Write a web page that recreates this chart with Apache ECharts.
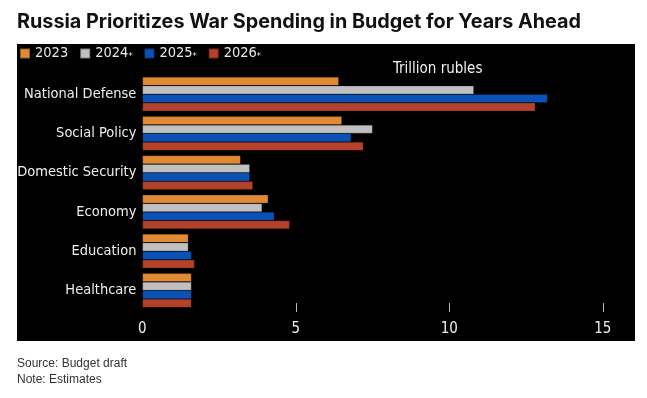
<!DOCTYPE html>
<html>
<head>
<meta charset="utf-8">
<script src="https://cdn.jsdelivr.net/npm/echarts@6/dist/echarts.min.js"></script>
<style>
  html, body { margin: 0; padding: 0; background: #fff; }
  #chart { width: 647px; height: 398px; }
</style>
</head>
<body>
<div id="chart"></div>
<script>
// categories and values (trillion rubles)
const categories = ['National Defense', 'Social Policy', 'Domestic Security', 'Economy', 'Education', 'Healthcare'];
const years = ['2023', '2024*', '2025*', '2026*'];
const v2023 = [6.4, 6.5, 3.2, 4.1, 1.5, 1.6];
const v2024 = [10.8, 7.5, 3.5, 3.9, 1.5, 1.6];
const v2025 = [13.2, 6.8, 3.5, 4.3, 1.6, 1.6];
const v2026 = [12.8, 7.2, 3.6, 4.8, 1.7, 1.6];
const xTicks = [0, 5, 10, 15];

const colors = ['#e08b33', '#c0c0c0', '#0b52b6', '#b4412a'];
const font = '"DejaVu Sans Condensed", "DejaVu Sans", sans-serif';

const chart = echarts.init(document.getElementById('chart'));

const seriesValues = [v2023, v2024, v2025, v2026];

chart.setOption({
  animation: false,
  backgroundColor: '#fff',
  graphic: [
    {
      type: 'rect', z: -10, silent: true,
      shape: { x: 17, y: 44, width: 618, height: 297 },
      style: { fill: '#000' }
    },
    {
      type: 'text', left: 17, top: 12,
      style: {
        text: 'Russia Prioritizes War Spending in Budget for Years Ahead',
        font: 'bold 19.8px Inter, "Liberation Sans", Arial, sans-serif',
        fill: '#111'
      }
    },
    {
      type: 'text', left: 393, top: 62,
      style: { text: 'Trillion rubles', font: '15px ' + font, fill: '#f2f2f2' }
    },
    {
      type: 'text', left: 17, top: 356,
      style: {
        text: 'Source: Budget draft\nNote: Estimates',
        font: '12px "Liberation Sans", Arial, sans-serif',
        lineHeight: 16,
        fill: '#333'
      }
    }
  ],
  legend: {
    left: 14, top: 41,
    icon: 'rect',
    itemWidth: 10, itemHeight: 10,
    itemGap: 11,
    data: years,
    formatter: name => name.replace('*', '{a|*}'),
    textStyle: {
      color: '#e8e8e8', fontFamily: font, fontSize: 14.5,
      rich: { a: { fontSize: 9, color: '#e8e8e8', fontFamily: font, verticalAlign: 'bottom' } }
    }
  },
  grid: { left: 142.4, right: 44.2, top: 74.6, bottom: 87.9 },
  xAxis: {
    type: 'value',
    min: 0, max: 15, interval: 5,
    offset: 2,
    splitLine: { show: false },
    axisLine: { show: false },
    axisTick: {
      show: true, inside: true, length: 9,
      customValues: xTicks.slice(1),
      lineStyle: { color: '#bbb', width: 1 }
    },
    axisLabel: {
      color: '#eee', fontFamily: font, fontSize: 15, margin: 10,
      customValues: xTicks
    }
  },
  yAxis: {
    type: 'category',
    inverse: true,
    data: categories,
    axisLine: { show: false },
    axisTick: { show: false },
    axisLabel: { color: '#eee', fontFamily: font, fontSize: 14.5, margin: 6 }
  },
  series: years.map((y, i) => ({
    name: y,
    type: 'bar',
    data: seriesValues[i],
    barGap: '0%',
    barCategoryGap: '12.4%',
    itemStyle: { color: colors[i], borderColor: 'rgba(0,0,0,0.35)', borderWidth: 0.6 }
  }))
});
</script>
</body>
</html>
